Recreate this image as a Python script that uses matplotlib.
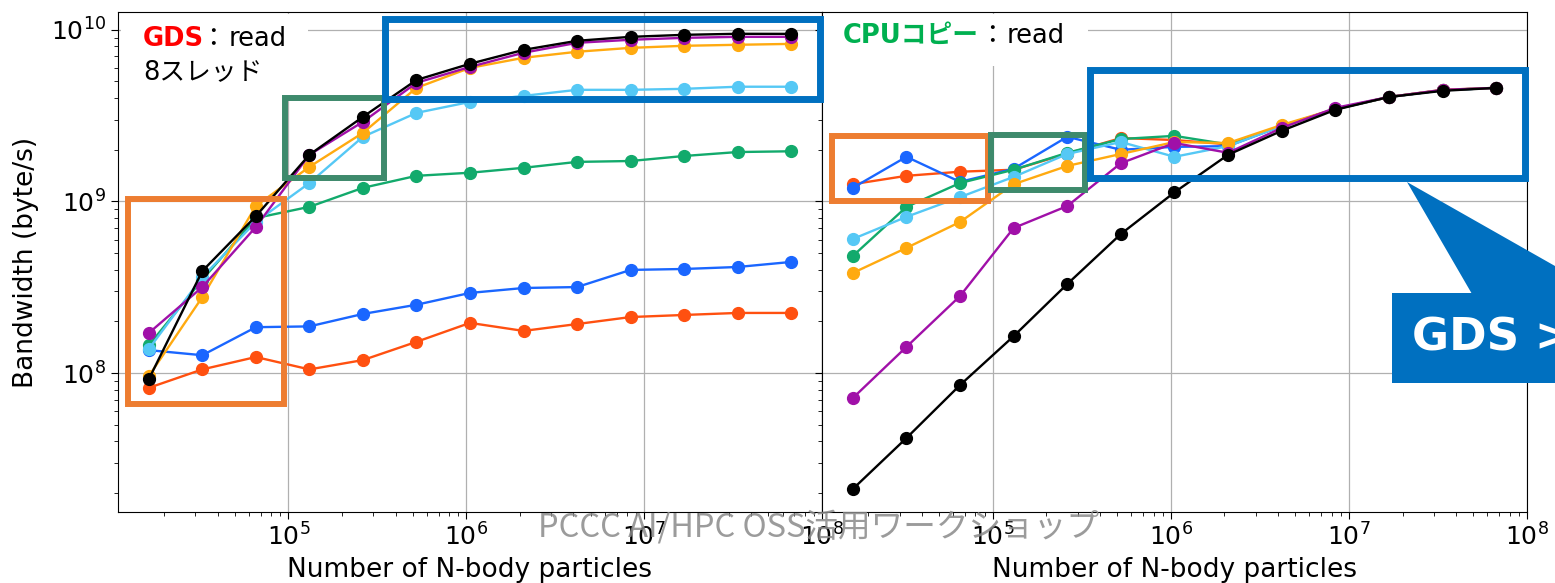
import matplotlib
matplotlib.use('agg')
import matplotlib.pyplot as plt
from matplotlib.patches import Rectangle, Polygon

plt.rcParams['font.family'] = ['DejaVu Sans', 'Noto Sans CJK JP']

# data
n_particles = [16384, 32768, 65536, 131072, 262144, 524288, 1048576,
               2097152, 4194304, 8388608, 16777216, 33554432, 67108864]

series_colors = ['#ff5010', '#1a66ff', '#12aa6c', '#55c8f5', '#ffaa10', '#a010a8', '#000000']

gds_red = [8.2e7, 1.05e8, 1.24e8, 1.05e8, 1.19e8, 1.52e8, 1.96e8, 1.76e8, 1.93e8, 2.12e8, 2.18e8, 2.24e8, 2.24e8]
gds_blue = [1.36e8, 1.27e8, 1.85e8, 1.87e8, 2.21e8, 2.50e8, 2.93e8, 3.13e8, 3.17e8, 3.99e8, 4.04e8, 4.15e8, 4.44e8]
gds_green = [1.45e8, 3.5e8, 8.0e8, 9.3e8, 1.2e9, 1.41e9, 1.47e9, 1.57e9, 1.70e9, 1.72e9, 1.84e9, 1.94e9, 1.96e9]
gds_lightblue = [1.38e8, 3.63e8, 7.6e8, 1.28e9, 2.38e9, 3.28e9, 3.80e9, 4.12e9, 4.47e9, 4.47e9, 4.53e9, 4.66e9, 4.66e9]
gds_orange = [9.6e7, 2.77e8, 9.4e8, 1.59e9, 2.51e9, 4.59e9, 6.0e9, 6.87e9, 7.45e9, 7.85e9, 8.07e9, 8.18e9, 8.28e9]
gds_purple = [1.71e8, 3.17e8, 7.1e8, 1.87e9, 2.91e9, 4.91e9, 6.08e9, 7.35e9, 8.40e9, 8.75e9, 8.98e9, 9.1e9, 9.1e9]
gds_black = [9.2e7, 3.93e8, 8.2e8, 1.87e9, 3.11e9, 5.1e9, 6.34e9, 7.64e9, 8.63e9, 9.1e9, 9.35e9, 9.48e9, 9.47e9]

cpu_red = [1.26e9, 1.41e9, 1.49e9, 1.53e9, 1.9e9, 2.34e9, 2.28e9, 2.15e9, 2.75e9, 3.45e9, 4.06e9, 4.45e9, 4.59e9]
cpu_blue = [1.2e9, 1.82e9, 1.30e9, 1.55e9, 2.38e9, 2.0e9, 2.08e9, 2.1e9, 2.75e9, 3.45e9, 4.06e9, 4.45e9, 4.59e9]
cpu_green = [4.81e8, 9.29e8, 1.28e9, 1.53e9, 1.92e9, 2.31e9, 2.41e9, 2.15e9, 2.75e9, 3.45e9, 4.06e9, 4.45e9, 4.59e9]
cpu_lightblue = [6.04e8, 8.13e8, 1.06e9, 1.39e9, 1.89e9, 2.22e9, 1.82e9, 2.1e9, 2.75e9, 3.45e9, 4.06e9, 4.45e9, 4.59e9]
cpu_orange = [3.83e8, 5.36e8, 7.59e8, 1.26e9, 1.61e9, 1.89e9, 2.22e9, 2.19e9, 2.79e9, 3.46e9, 4.06e9, 4.47e9, 4.59e9]
cpu_purple = [7.15e7, 1.42e8, 2.81e8, 7.0e8, 9.4e8, 1.67e9, 2.19e9, 1.92e9, 2.68e9, 3.51e9, 4.06e9, 4.47e9, 4.59e9]
cpu_black = [2.11e7, 4.18e7, 8.51e7, 1.64e8, 3.30e8, 6.46e8, 1.13e9, 1.87e9, 2.58e9, 3.42e9, 4.06e9, 4.41e9, 4.59e9]

gds_series = [gds_red, gds_blue, gds_green, gds_lightblue, gds_orange, gds_purple, gds_black]
cpu_series = [cpu_red, cpu_blue, cpu_green, cpu_lightblue, cpu_orange, cpu_purple, cpu_black]

W, H = 1555, 583


def fx(x):
    return x / W


def fy(y):
    return 1 - y / H


fig = plt.figure(figsize=(W / 100, H / 100), dpi=100)
ax_gds = fig.add_axes([fx(118), fy(512), fx(822) - fx(118), fy(12) - fy(512)])
ax_cpu = fig.add_axes([fx(822), fy(512), fx(1527) - fx(822), fy(12) - fy(512)], sharey=ax_gds)

for ax, data in [(ax_gds, gds_series), (ax_cpu, cpu_series)]:
    for values, color in zip(data, series_colors):
        ax.plot(n_particles, values, color=color, marker='o', markersize=8.5, linewidth=1.7)
    ax.set_xscale('log')
    ax.set_yscale('log')
    ax.set_xlim(1.1e4, 1e8)
    ax.set_ylim(1.55e7, 1.27e10)
    ax.grid(True, which='major', color='#b0b0b0', linewidth=0.9)
    ax.tick_params(which='major', labelsize=18, length=5, direction='out')
    ax.tick_params(which='minor', length=3, direction='out')
    ax.set_xlabel('Number of N-body particles', fontsize=19)
    ax.xaxis.set_label_coords(0.5, -0.09)

ax_gds.set_ylabel('Bandwidth (byte/s)', fontsize=19)
ax_gds.yaxis.set_label_coords(-0.112, 0.5)
ax_cpu.tick_params(axis='y', which='both', labelleft=False)


def frame(x0, y0, x1, y1, color, lw=4.3):
    fig.add_artist(Rectangle((fx(x0), fy(y1)), fx(x1) - fx(x0), fy(y0) - fy(y1),
                             transform=fig.transFigure, fill=False,
                             edgecolor=color, linewidth=lw, zorder=5))


def white_box(x0, y0, x1, y1):
    fig.add_artist(Rectangle((fx(x0), fy(y1)), fx(x1) - fx(x0), fy(y0) - fy(y1),
                             transform=fig.transFigure, facecolor='white',
                             edgecolor='none', zorder=4))


def label(x, y, s, color='black', size=18.5, weight='normal', ha='left'):
    fig.text(fx(x), fy(y), s, color=color, fontsize=size, fontweight=weight,
             ha=ha, va='center', zorder=6)


# label boxes
white_box(121, 14, 308, 96)
white_box(824, 14, 1088, 66)
label(143, 39, 'GDS', color='#ff0000', weight='bold')
label(213, 39, '：', ha='center')
label(229, 39, 'read')
label(143, 72, '8スレッド')
label(843, 36, 'CPUコピー', color='#00b050', weight='bold')
label(992, 36, '：', ha='center')
label(1007, 36, 'read')

# highlight frames
orange_frame = '#ed7d31'
green_frame = '#3e8a6c'
blue_frame = '#0070c0'
frame(128, 199, 284, 404, orange_frame)
frame(285, 98, 384, 178, green_frame)
frame(385, 19, 820, 99, blue_frame, lw=5)
frame(832, 136, 988, 201, orange_frame)
frame(991, 135, 1085, 190, green_frame)
frame(1090, 70, 1525, 178, blue_frame, lw=5)

# callout
fig.add_artist(Polygon([(fx(1407), fy(182)), (fx(1472), fy(294)), (fx(1555), fy(294)),
                        (fx(1555), fy(266))], closed=True, transform=fig.transFigure,
                       facecolor=blue_frame, edgecolor='none', zorder=7))
fig.add_artist(Rectangle((fx(1392), fy(383)), fx(1555) - fx(1392), fy(293) - fy(383),
                         transform=fig.transFigure, facecolor=blue_frame,
                         edgecolor='none', zorder=7))
fig.text(fx(1412), fy(338), 'GDS > CPUコピー', color='white', fontsize=32.5, fontweight='bold',
         ha='left', va='center', zorder=8)

# watermark
fig.text(fx(818), fy(527), 'PCCC AI/HPC OSS活用ワークショップ', color='#8a8a8a', alpha=0.85,
         fontsize=23.5, family=['Noto Sans CJK JP', 'DejaVu Sans'],
         ha='center', va='center', zorder=9)

fig.savefig('out.png', dpi=100)
